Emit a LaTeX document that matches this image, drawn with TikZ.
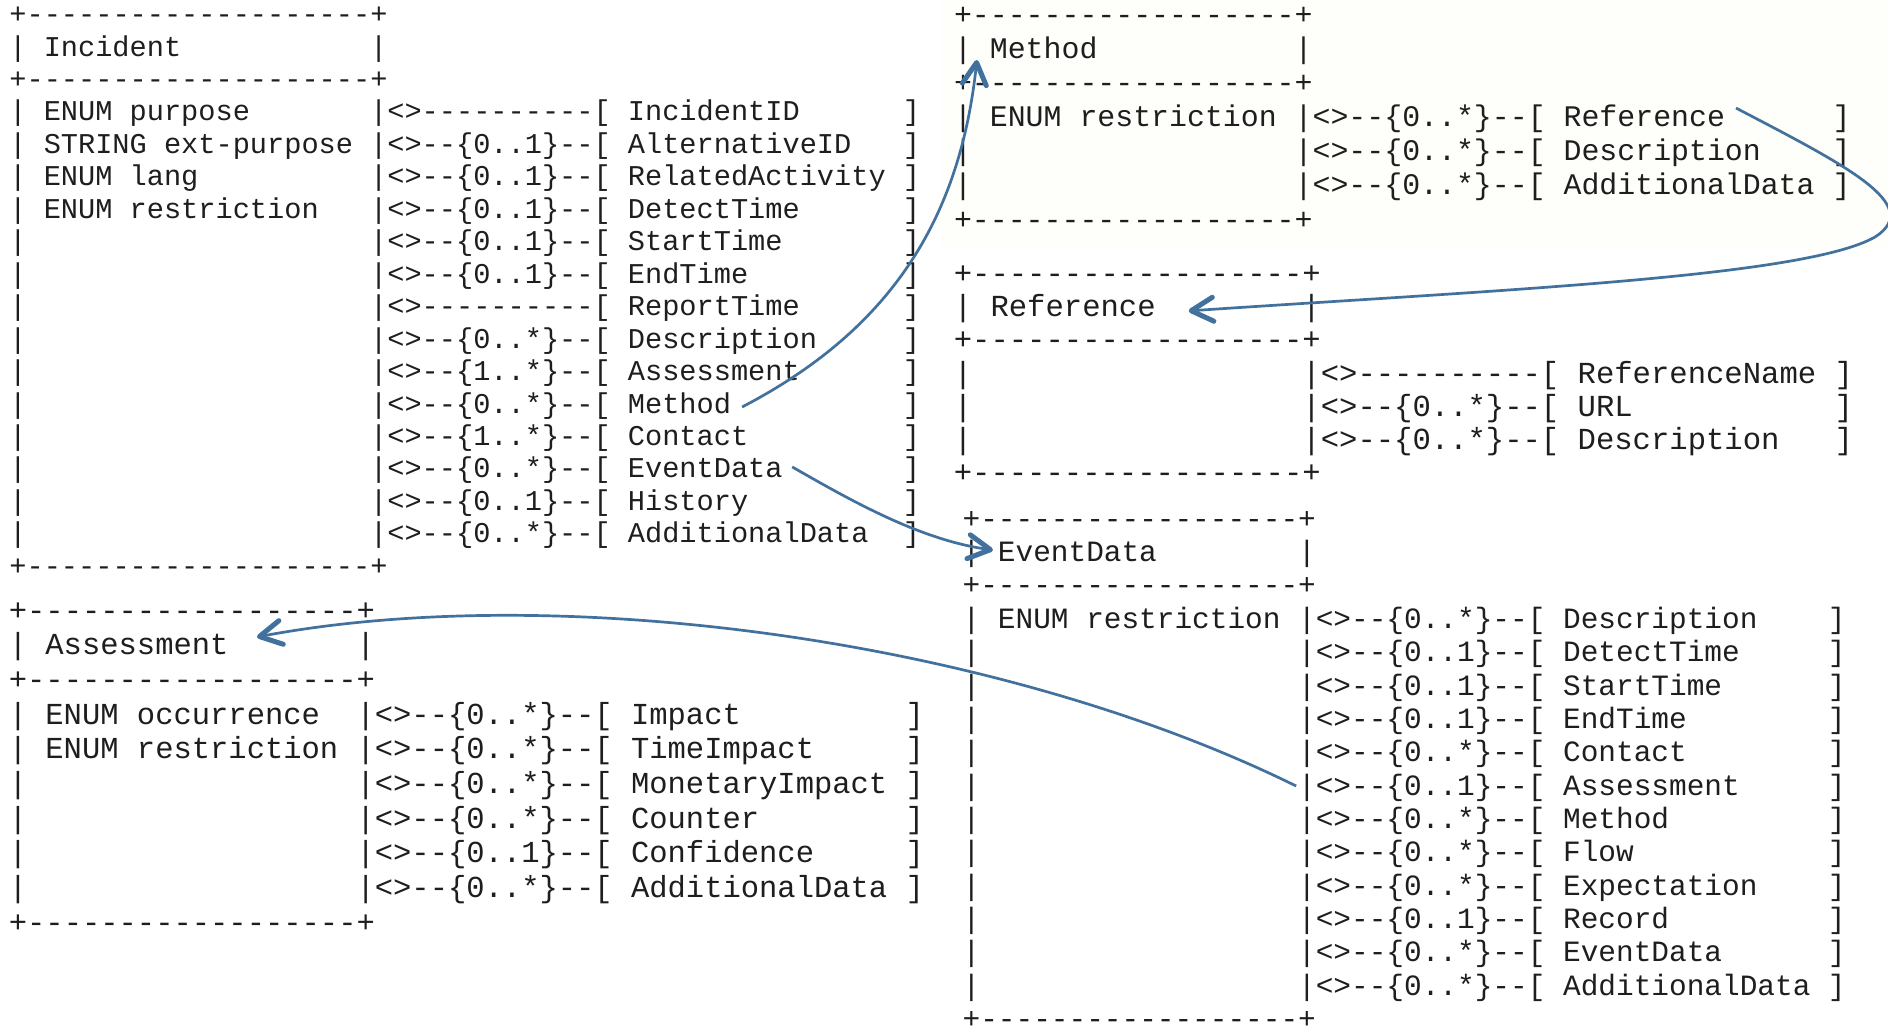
\documentclass[tikz,border=0pt]{standalone}
\usepackage{fontspec}
\setmonofont{Liberation Mono}
\usetikzlibrary{arrows.meta,calc}
\definecolor{ink}{HTML}{1E1E1E}
\definecolor{arrowblue}{HTML}{41719C}
\definecolor{cream}{HTML}{FEFEFB}

% block parameters (pixels): x of column 0, char width, baseline of line 0, line pitch, box column, bracket column
\def\myfI{\ttfamily\fontsize{14.32pt}{14.32pt}\selectfont}
\def\myxI{9.4}\def\mywI{17.18}\def\myyI{23.6}\def\mypI{32.45}\def\mycI{21}\def\mybI{52}
\def\myfA{\ttfamily\fontsize{15.25pt}{15.25pt}\selectfont}
\def\myxA{8.85}\def\mywA{18.3}\def\myyA{620}\def\mypA{34.7}\def\mycA{19}\def\mybA{49}
\def\myfM{\ttfamily\fontsize{14.94pt}{14.94pt}\selectfont}
\def\myxM{954}\def\mywM{17.93}\def\myyM{24.2}\def\mypM{34.15}\def\mycM{19}\def\mybM{49}
\def\myfR{\ttfamily\fontsize{15.29pt}{15.29pt}\selectfont}
\def\myxR{953.8}\def\mywR{18.35}\def\myyR{283.8}\def\mypR{33.1}\def\mycR{19}\def\mybR{48}
\def\myfE{\ttfamily\fontsize{14.72pt}{14.72pt}\selectfont}
\def\myxE{962.6}\def\mywE{17.66}\def\myyE{528.3}\def\mypE{33.34}\def\mycE{19}\def\mybE{49}

\newcommand\puttext[5]{%
  \pgfmathsetmacro\mytx{\csname myx#2\endcsname+(#3)*\csname myw#2\endcsname}%
  \pgfmathsetmacro\myty{\csname myy#2\endcsname+(#4)*\csname myp#2\endcsname}%
  \node[txt,font=\csname myf#2\endcsname] (#1) at (\mytx,\myty) {#5};}
\newcommand\rowl[5]{%
  \puttext{#1#2a}{#1}{0}{#2}{|}%
  \if\relax\detokenize{#3}\relax\else\puttext{#1#2b}{#1}{2}{#2}{#3}\fi
  \puttext{#1#2c}{#1}{\csname myc#1\endcsname}{#2}{|<>#4[ #5}%
  \puttext{#1#2d}{#1}{\csname myb#1\endcsname}{#2}{]}}
\newcommand\titl[2]{%
  \puttext{#1t1}{#1}{0}{1}{|}%
  \puttext{#1title}{#1}{2}{1}{#2}%
  \puttext{#1t2}{#1}{\csname myc#1\endcsname}{1}{|}}
\newcommand\bord[3]{\puttext{#1b#2}{#1}{0}{#2}{#3}}

\begin{document}
\begin{tikzpicture}[x=0.5pt,y=-0.5pt,
  txt/.style={anchor=base west,inner sep=0pt,outer sep=0pt,text=ink},
  arr/.style={draw=arrowblue,line width=1.35pt,
    -{Straight Barb[length=11pt,width=12pt,line width=2.5pt,round]}}]
\useasboundingbox (0,0) rectangle (1888,1026);
\clip (0,0) rectangle (1888,1026);
\fill[white] (0,0) rectangle (1888,1026);
\fill[cream] (942,0) rectangle (1888,250);

% ---------- Incident ----------
\bord{I}{0}{+--------------------+}
\titl{I}{Incident}
\bord{I}{2}{+--------------------+}
\rowl{I}{3}{ENUM purpose}{----------}{IncidentID}
\rowl{I}{4}{STRING ext-purpose}{--\{0..1\}--}{AlternativeID}
\rowl{I}{5}{ENUM lang}{--\{0..1\}--}{RelatedActivity}
\rowl{I}{6}{ENUM restriction}{--\{0..1\}--}{DetectTime}
\rowl{I}{7}{}{--\{0..1\}--}{StartTime}
\rowl{I}{8}{}{--\{0..1\}--}{EndTime}
\rowl{I}{9}{}{----------}{ReportTime}
\rowl{I}{10}{}{--\{0..*\}--}{Description}
\rowl{I}{11}{}{--\{1..*\}--}{Assessment}
\rowl{I}{12}{}{--\{0..*\}--}{Method}
\rowl{I}{13}{}{--\{1..*\}--}{Contact}
\rowl{I}{14}{}{--\{0..*\}--}{EventData}
\rowl{I}{15}{}{--\{0..1\}--}{History}
\rowl{I}{16}{}{--\{0..*\}--}{AdditionalData}
\bord{I}{17}{+--------------------+}

% ---------- Assessment ----------
\bord{A}{0}{+------------------+}
\titl{A}{Assessment}
\bord{A}{2}{+------------------+}
\rowl{A}{3}{ENUM occurrence}{--\{0..*\}--}{Impact}
\rowl{A}{4}{ENUM restriction}{--\{0..*\}--}{TimeImpact}
\rowl{A}{5}{}{--\{0..*\}--}{MonetaryImpact}
\rowl{A}{6}{}{--\{0..*\}--}{Counter}
\rowl{A}{7}{}{--\{0..1\}--}{Confidence}
\rowl{A}{8}{}{--\{0..*\}--}{AdditionalData}
\bord{A}{9}{+------------------+}

% ---------- Method ----------
\bord{M}{0}{+------------------+}
\titl{M}{Method}
\bord{M}{2}{+------------------+}
\rowl{M}{3}{ENUM restriction}{--\{0..*\}--}{Reference}
\rowl{M}{4}{}{--\{0..*\}--}{Description}
\rowl{M}{5}{}{--\{0..*\}--}{AdditionalData}
\bord{M}{6}{+------------------+}

% ---------- Reference ----------
\bord{R}{0}{+------------------+}
\titl{R}{Reference}
\bord{R}{2}{+------------------+}
\rowl{R}{3}{}{----------}{ReferenceName}
\rowl{R}{4}{}{--\{0..*\}--}{URL}
\rowl{R}{5}{}{--\{0..*\}--}{Description}
\bord{R}{6}{+------------------+}

% ---------- EventData ----------
\bord{E}{0}{+------------------+}
\titl{E}{EventData}
\bord{E}{2}{+------------------+}
\rowl{E}{3}{ENUM restriction}{--\{0..*\}--}{Description}
\rowl{E}{4}{}{--\{0..1\}--}{DetectTime}
\rowl{E}{5}{}{--\{0..1\}--}{StartTime}
\rowl{E}{6}{}{--\{0..1\}--}{EndTime}
\rowl{E}{7}{}{--\{0..*\}--}{Contact}
\rowl{E}{8}{}{--\{0..1\}--}{Assessment}
\rowl{E}{9}{}{--\{0..*\}--}{Method}
\rowl{E}{10}{}{--\{0..*\}--}{Flow}
\rowl{E}{11}{}{--\{0..*\}--}{Expectation}
\rowl{E}{12}{}{--\{0..1\}--}{Record}
\rowl{E}{13}{}{--\{0..*\}--}{EventData}
\rowl{E}{14}{}{--\{0..*\}--}{AdditionalData}
\bord{E}{15}{+------------------+}

% ---------- arrows ----------
\draw[arr] ($(I12c.base east)+(11,-6)$) .. controls (890,330) and (960,220) .. ($(Mtitle.base west)+(-13,1.7)$);
\draw[arr] ($(M3c.base east)+(11,-18.6)$) .. controls (1845,165) and (1925,205) .. (1875,237)
           .. controls (1805,277) and (1500,290) .. ($(Rtitle.base east)+(33,-6)$);
\draw[arr] ($(I14c.base east)+(9.5,-11)$) .. controls (850,500) and (920,540) .. ($(Etitle.base west)+(-5,-11.6)$);
\draw[arr] ($(E8c.base west)+(-2,-9)$) .. controls (1000,640) and (560,580) .. ($(Atitle.base east)+(28.5,-17.7)$);
\end{tikzpicture}
\end{document}
